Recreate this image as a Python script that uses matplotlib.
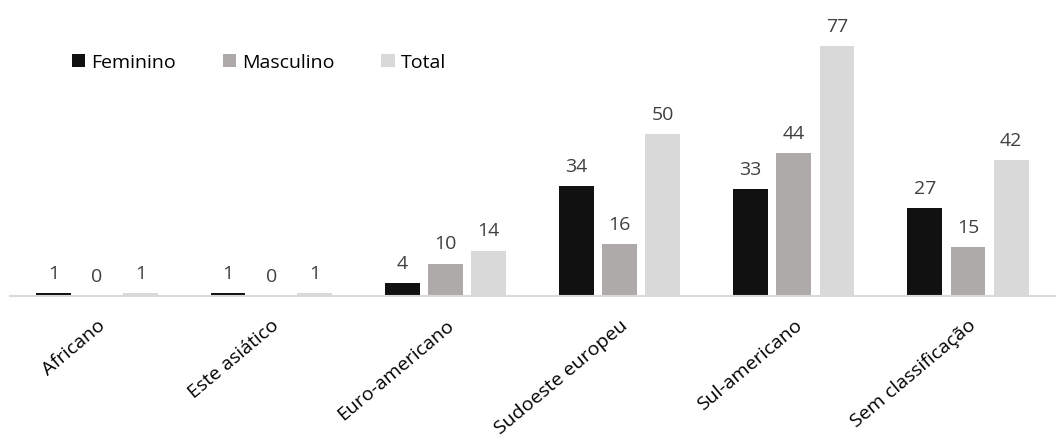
import numpy as np
import matplotlib.pyplot as plt

plt.rcParams['font.family'] = ['Open Sans', 'DejaVu Sans']

categories = ['Africano', 'Este asiático', 'Euro-americano', 'Sudoeste europeu',
              'Sul-americano', 'Sem classificação']
feminino = [1, 1, 4, 34, 33, 27]
masculino = [0, 0, 10, 16, 44, 15]
total = [1, 1, 14, 50, 77, 42]

series = [('Feminino', feminino, '#111111'),
          ('Masculino', masculino, '#aeaaaa'),
          ('Total', total, '#d9d9d9')]

fig = plt.figure(figsize=(10.59, 4.39), dpi=100)
ax = fig.add_axes([10 / 1059, 142 / 439, 1045 / 1059, 292 / 439])

x = np.arange(len(categories))
width = 0.2
step = 0.248
for i, (name, vals, color) in enumerate(series):
    pos = x + (i - 1) * step
    bars = ax.bar(pos, vals, width, color=color, label=name, zorder=2)
    for b, v in zip(bars, vals):
        ax.annotate(str(v), (b.get_x() + b.get_width() / 2, v),
                    xytext=(0, 8), textcoords='offset points',
                    ha='center', va='bottom', fontsize=14, color='#404040')

ax.set_xlim(-0.5, len(categories) - 0.5)
ax.set_ylim(0, 90)
ax.set_yticks([])
ax.set_xticks(x)
ax.set_xticklabels(categories, rotation=40, ha='right', rotation_mode='anchor',
                   fontsize=14, color='#000000')
ax.tick_params(axis='x', length=0, pad=14)
for s in ['top', 'right', 'left']:
    ax.spines[s].set_visible(False)
ax.spines['bottom'].set_color('#d9d9d9')
ax.spines['bottom'].set_linewidth(1.5)

ax.legend(loc='center left', bbox_to_anchor=(0.059, 0.8), ncol=3, frameon=False,
          fontsize=14, handlelength=0.7, handleheight=0.7, handletextpad=0.3,
          columnspacing=2.4, borderpad=0, borderaxespad=0)

fig.savefig('out.png', dpi=100)
